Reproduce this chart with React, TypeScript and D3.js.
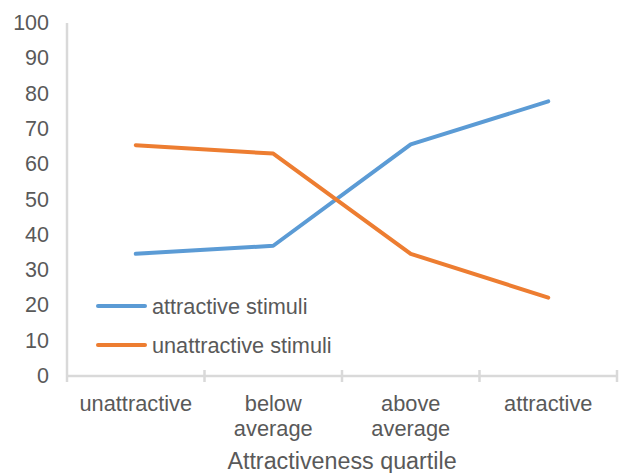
import React from "react";
import * as d3 from "d3";

const categories = ["unattractive", "below average", "above average", "attractive"];
const categoryLines = [["unattractive"], ["below", "average"], ["above", "average"], ["attractive"]];
const attractiveStimuli = [34.6, 36.9, 65.6, 77.8];
const unattractiveStimuli = [65.4, 63.0, 34.6, 22.2];
const yTicks = [0, 10, 20, 30, 40, 50, 60, 70, 80, 90, 100];
const seriesNames = ["attractive stimuli", "unattractive stimuli"];
const seriesColors = ["#5b9bd5", "#ed7d31"];

const W = 622;
const H = 473;
const FONT = "Liberation Sans, Arial, sans-serif";
const TEXT = "#595959";
const AXIS = "#d9d9d9";

export default function App() {
  const x = d3.scaleBand<string>().domain(categories).range([67, 617]);
  const y = d3.scaleLinear().domain([0, 100]).range([376, 23]);
  const line = d3
    .line<number>()
    .x((_, i) => (x(categories[i]) as number) + x.bandwidth() / 2)
    .y((d) => y(d));
  const series = [attractiveStimuli, unattractiveStimuli];
  const boundaries = categories.map((c) => x(c) as number).concat([x.range()[1]]);

  return (
    <svg
      width={W}
      height={H}
      style={{ position: "absolute", left: 0, top: 0, background: "#fff" }}
      fontFamily={FONT}
    >
      <line x1={67} x2={67} y1={y(100)} y2={382} stroke={AXIS} strokeWidth={2.5} />
      <line x1={67} x2={617} y1={y(0)} y2={y(0)} stroke={AXIS} strokeWidth={2.5} />
      {boundaries.slice(1).map((bx, i) => (
        <line key={i} x1={bx} x2={bx} y1={370} y2={382} stroke={AXIS} strokeWidth={2.5} />
      ))}
      {yTicks.map((t) => (
        <text
          key={t}
          x={49}
          y={y(t)}
          textAnchor="end"
          dominantBaseline="central"
          fontSize={21.5}
          fill={TEXT}
        >
          {t}
        </text>
      ))}
      {categoryLines.map((lines, i) => (
        <text
          key={i}
          x={(x(categories[i]) as number) + x.bandwidth() / 2}
          textAnchor="middle"
          fontSize={21.8}
          fill={TEXT}
        >
          {lines.map((l, j) => (
            <tspan key={j} x={(x(categories[i]) as number) + x.bandwidth() / 2} y={403 + j * 25} dominantBaseline="central">
              {l}
            </tspan>
          ))}
        </text>
      ))}
      <text x={342} y={461} textAnchor="middle" dominantBaseline="central" fontSize={23.3} fill={TEXT}>
        Attractiveness quartile
      </text>
      {series.map((s, i) => (
        <path
          key={i}
          d={line(s) as string}
          fill="none"
          stroke={seriesColors[i]}
          strokeWidth={4}
          strokeLinejoin="round"
          strokeLinecap="round"
        />
      ))}
      {seriesNames.map((n, i) => (
        <g key={n}>
          <line
            x1={98}
            x2={145}
            y1={306 + i * 39}
            y2={306 + i * 39}
            stroke={seriesColors[i]}
            strokeWidth={4}
            strokeLinecap="round"
          />
          <text x={152} y={306 + i * 39} dominantBaseline="central" fontSize={21.7} fill={TEXT}>
            {n}
          </text>
        </g>
      ))}
    </svg>
  );
}
